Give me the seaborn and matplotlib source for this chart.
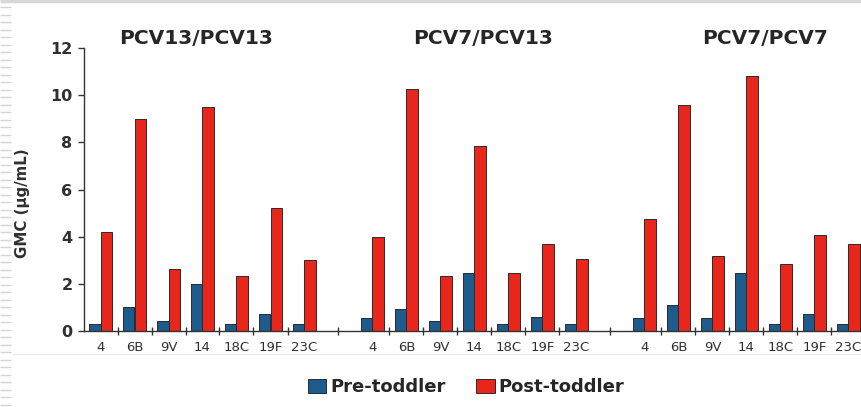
import numpy as np
import pandas as pd
import matplotlib
matplotlib.use("Agg")
import matplotlib.pyplot as plt
import seaborn as sns

# serotypes and vaccine groups
serotypes = ["4", "6B", "9V", "14", "18C", "19F", "23C"]
groups = ["PCV13/PCV13", "PCV7/PCV13", "PCV7/PCV7"]
phases = ["Pre-toddler", "Post-toddler"]

# GMC (ug/mL), one list per group and phase
pre_13_13 = [0.30, 1.00, 0.42, 2.00, 0.30, 0.70, 0.30]
post_13_13 = [4.20, 9.00, 2.62, 9.48, 2.33, 5.20, 3.00]
pre_7_13 = [0.54, 0.93, 0.42, 2.45, 0.30, 0.60, 0.30]
post_7_13 = [3.98, 10.28, 2.33, 7.85, 2.45, 3.68, 3.06]
pre_7_7 = [0.54, 1.10, 0.54, 2.45, 0.30, 0.70, 0.30]
post_7_7 = [4.76, 9.60, 3.18, 10.83, 2.84, 4.07, 3.68]

pre_vals = [pre_13_13, pre_7_13, pre_7_7]
post_vals = [post_13_13, post_7_13, post_7_7]

blue = "#1d5b8c"
red = "#e8261c"

rows = []
order = []
for g, grp in enumerate(groups):
    for s, sero in enumerate(serotypes):
        key = f"{grp}|{sero}"
        order.append(key)
        rows.append({"slot": key, "phase": phases[0], "gmc": pre_vals[g][s]})
        rows.append({"slot": key, "phase": phases[1], "gmc": post_vals[g][s]})
    if g < len(groups) - 1:
        order.append(f"gap{g}")  # empty slot between groups
df = pd.DataFrame(rows)

sns.set_style("white")
plt.rcParams["font.family"] = ["DejaVu Sans"]

W, H = 862, 407
fig = plt.figure(figsize=(W / 100, H / 100), dpi=100)

# slide decoration: striped left margin, top rule, faint separator
bg = fig.add_axes([0, 0, 1, 1], zorder=-5)
bg.set_xlim(0, W)
bg.set_ylim(H, 0)
bg.axis("off")
bg.hlines(np.arange(7, H, 7.5), 0, 11, color="#d4d4d4", lw=1.0)
bg.hlines(1, 0, W, color="#d8d8d8", lw=2.5)
bg.hlines(354, 12, W, color="#ececec", lw=0.8)

x0_px, y0_px, y12_px = 83.5, 331, 48
ax = fig.add_axes([x0_px / W, (H - y0_px) / H, 1 - x0_px / W, (y0_px - y12_px) / H])

sns.barplot(data=df, x="slot", y="gmc", hue="phase", order=order,
            hue_order=phases, palette=[blue, red], width=0.65,
            edgecolor="#2a2a2a", linewidth=0.7, saturation=1, ax=ax)

ax.set_xlim(-0.5, (W - x0_px) / 34 - 0.5)
ax.set_ylim(0, 12)
sns.despine(ax=ax)
for sp in ["left", "bottom"]:
    ax.spines[sp].set_color("#333333")
    ax.spines[sp].set_linewidth(1.0)

# x labels at bar centres, tick marks between slots
label_pos = [i for i, k in enumerate(order) if not k.startswith("gap")]
ax.set_xticks(label_pos)
ax.set_xticklabels(serotypes * len(groups), fontsize=9.5, color="#303030")
ax.tick_params(axis="x", which="major", bottom=True, length=0, pad=7)
minor = []
for i, k in enumerate(order):
    if k.startswith("gap"):
        minor.append(i)
    elif i + 1 < len(order) and not order[i + 1].startswith("gap"):
        minor.append(i + 0.5)
ax.set_xticks(minor, minor=True)
ax.tick_params(axis="x", which="minor", bottom=True, length=6, direction="inout",
               width=1.0, color="#333333")

ax.set_yticks(range(0, 13, 2))
ax.tick_params(axis="y", left=True, length=4, width=1.0, direction="out",
               color="#333333", pad=4)
for t in ax.get_yticklabels():
    t.set_fontsize(11.5)
    t.set_fontweight("bold")
    t.set_color("#303030")

ax.set_xlabel("")
ax.set_ylabel("GMC (\u03bcg/mL)", fontsize=10.8, fontweight="bold", color="#303030")
ax.yaxis.set_label_coords(30 / W, 1 - 203 / H, transform=fig.transFigure)

# group titles
title_x = [2.82, 11.24, 19.56]
for tx, grp in zip(title_x, groups):
    ax.text(tx, 12.42, grp, ha="center", va="center", fontsize=14.5,
            fontweight="bold", color="#262626", clip_on=False)

# legend
leg = ax.get_legend()
handles = leg.legend_handles
labels = [t.get_text() for t in leg.get_texts()]
leg.remove()
for h in handles:
    h.set_edgecolor("#2a2a2a")
    h.set_linewidth(0.7)
fig.legend(handles, labels, loc="center", bbox_to_anchor=(466 / W, 1 - 387 / H),
           ncol=2, frameon=False, prop={"size": 13, "weight": "bold"},
           handlelength=1.05, handleheight=0.78, handletextpad=0.2,
           columnspacing=1.7, labelcolor="#262626")

fig.savefig("out.png", dpi=100)
